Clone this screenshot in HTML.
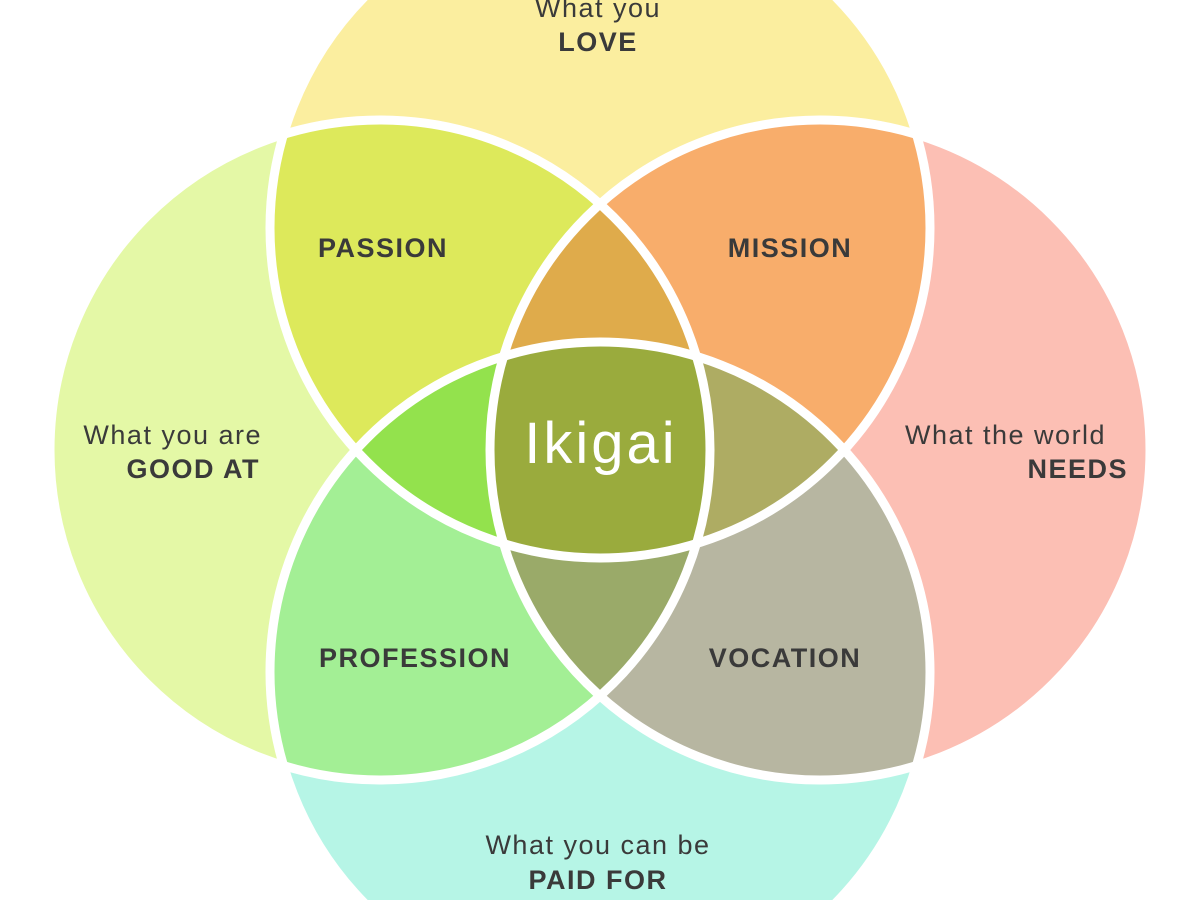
<!DOCTYPE html>
<html><head><meta charset="utf-8"><style>
html,body{margin:0;padding:0;background:#fff;width:1200px;height:900px;overflow:hidden;}
svg{display:block;}
text{font-family:"Liberation Sans",sans-serif;fill:#3a3a3a;}
</style></head><body>
<svg width="1200" height="900" viewBox="0 0 1200 900" xmlns="http://www.w3.org/2000/svg">
<defs>
<clipPath id="T"><circle cx="600" cy="228" r="330"/></clipPath>
<clipPath id="L"><circle cx="380" cy="450" r="330"/></clipPath>
<clipPath id="R"><circle cx="820" cy="450" r="330"/></clipPath>
<clipPath id="B"><circle cx="600" cy="672" r="330"/></clipPath>
</defs>
<rect width="1200" height="900" fill="#fff"/>
<circle cx="600" cy="228" r="330" fill="#fbee9f"/>
<circle cx="380" cy="450" r="330" fill="#e4f8a6"/>
<circle cx="820" cy="450" r="330" fill="#fcbfb4"/>
<circle cx="600" cy="672" r="330" fill="#b6f5e6"/>
<g clip-path="url(#T)"><rect width="1200" height="900" clip-path="url(#L)" fill="#dde95b"/></g>
<g clip-path="url(#T)"><rect width="1200" height="900" clip-path="url(#R)" fill="#f8ad6b"/></g>
<g clip-path="url(#B)"><rect width="1200" height="900" clip-path="url(#L)" fill="#a3ef95"/></g>
<g clip-path="url(#B)"><rect width="1200" height="900" clip-path="url(#R)" fill="#b7b6a1"/></g>
<g clip-path="url(#T)"><g clip-path="url(#L)"><rect width="1200" height="900" clip-path="url(#R)" fill="#dfab4b"/></g></g>
<g clip-path="url(#T)"><g clip-path="url(#L)"><rect width="1200" height="900" clip-path="url(#B)" fill="#93e24d"/></g></g>
<g clip-path="url(#T)"><g clip-path="url(#R)"><rect width="1200" height="900" clip-path="url(#B)" fill="#aeac63"/></g></g>
<g clip-path="url(#B)"><g clip-path="url(#L)"><rect width="1200" height="900" clip-path="url(#R)" fill="#9aaa69"/></g></g>
<g clip-path="url(#T)"><g clip-path="url(#L)"><g clip-path="url(#R)"><rect width="1200" height="900" clip-path="url(#B)" fill="#9aab3d"/></g></g></g>
<g fill="none" stroke="#fff" stroke-width="9">
<circle cx="600" cy="228" r="330"/>
<circle cx="380" cy="450" r="330"/>
<circle cx="820" cy="450" r="330"/>
<circle cx="600" cy="672" r="330"/>
</g>
<g font-size="27" letter-spacing="1.5">
<text x="598" y="17" text-anchor="middle">What you</text>
<text x="598" y="51" text-anchor="middle" font-weight="bold">LOVE</text>
<text x="383" y="257" text-anchor="middle" font-weight="bold">PASSION</text>
<text x="790" y="257" text-anchor="middle" font-weight="bold">MISSION</text>
<text x="415" y="667" text-anchor="middle" font-weight="bold">PROFESSION</text>
<text x="785" y="667" text-anchor="middle" font-weight="bold">VOCATION</text>
<text x="262" y="444" text-anchor="end">What you are</text>
<text x="260" y="478" text-anchor="end" font-weight="bold">GOOD AT</text>
<text x="905" y="444">What the world</text>
<text x="1128" y="478" text-anchor="end" font-weight="bold">NEEDS</text>
<text x="598" y="854" text-anchor="middle">What you can be</text>
<text x="598" y="889" text-anchor="middle" font-weight="bold">PAID FOR</text>
</g>
<text x="601" y="463" text-anchor="middle" font-size="58" letter-spacing="3" style="fill:#fff">Ikigai</text>
</svg>
</body></html>
